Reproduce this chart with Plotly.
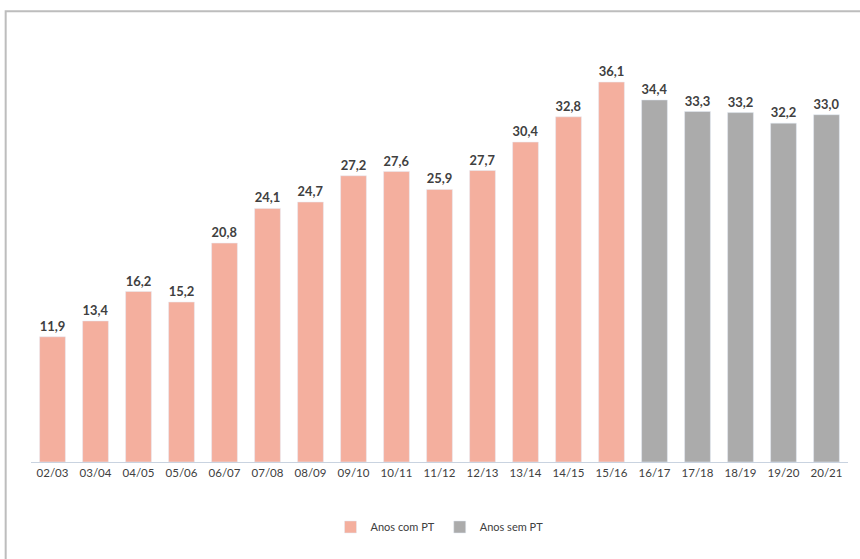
import plotly.graph_objects as go

# school years and values
anos_pt = ['02/03', '03/04', '04/05', '05/06', '06/07', '07/08', '08/09',
           '09/10', '10/11', '11/12', '12/13', '13/14', '14/15', '15/16']
valores_pt = [11.9, 13.4, 16.2, 15.2, 20.8, 24.1, 24.7,
              27.2, 27.6, 25.9, 27.7, 30.4, 32.8, 36.1]
anos_sem = ['16/17', '17/18', '18/19', '19/20', '20/21']
valores_sem = [34.4, 33.3, 33.2, 32.2, 33.0]


def rotulo(v):
    return f"{v:.1f}".replace('.', ',')


label_font = dict(size=13, color='#404040', family='Lato', weight='bold')

fig = go.Figure()
fig.add_trace(go.Bar(
    x=anos_pt, y=valores_pt, name='Anos com PT',
    marker=dict(color='#F4AF9E'), width=0.6,
    text=[rotulo(v) for v in valores_pt], textposition='outside',
    textfont=label_font, cliponaxis=False,
))
fig.add_trace(go.Bar(
    x=anos_sem, y=valores_sem, name='Anos sem PT',
    marker=dict(color='#ABABAB'), width=0.6,
    text=[rotulo(v) for v in valores_sem], textposition='outside',
    textfont=label_font, cliponaxis=False,
))

fig.update_layout(
    width=860, height=559,
    margin=dict(l=31, r=12, t=20, b=97),
    barmode='overlay',
    paper_bgcolor='white', plot_bgcolor='white',
    font=dict(family='Lato', size=11.5, color='#404040'),
    showlegend=True,
    legend=dict(orientation='h', x=0.5, xanchor='center', y=-0.147,
                yanchor='middle', font=dict(size=11, color='#404040'),
                itemwidth=30),
    xaxis=dict(categoryorder='array', categoryarray=anos_pt + anos_sem,
               showline=True, linecolor='#C9D3E0', linewidth=1,
               ticks='', showgrid=False),
    yaxis=dict(range=[0, 42], visible=False, showgrid=False),
)

# outer frame (only top and left edges fall inside the picture)
fig.add_shape(type='rect', xref='paper', yref='paper',
              x0=-0.031, x1=1.2, y0=-0.5, y1=1.02,
              line=dict(color='#BDBDBD', width=2))

fig.write_html("out.html", config={'displayModeBar': False},
               post_script="document.body.style.margin='0';")
